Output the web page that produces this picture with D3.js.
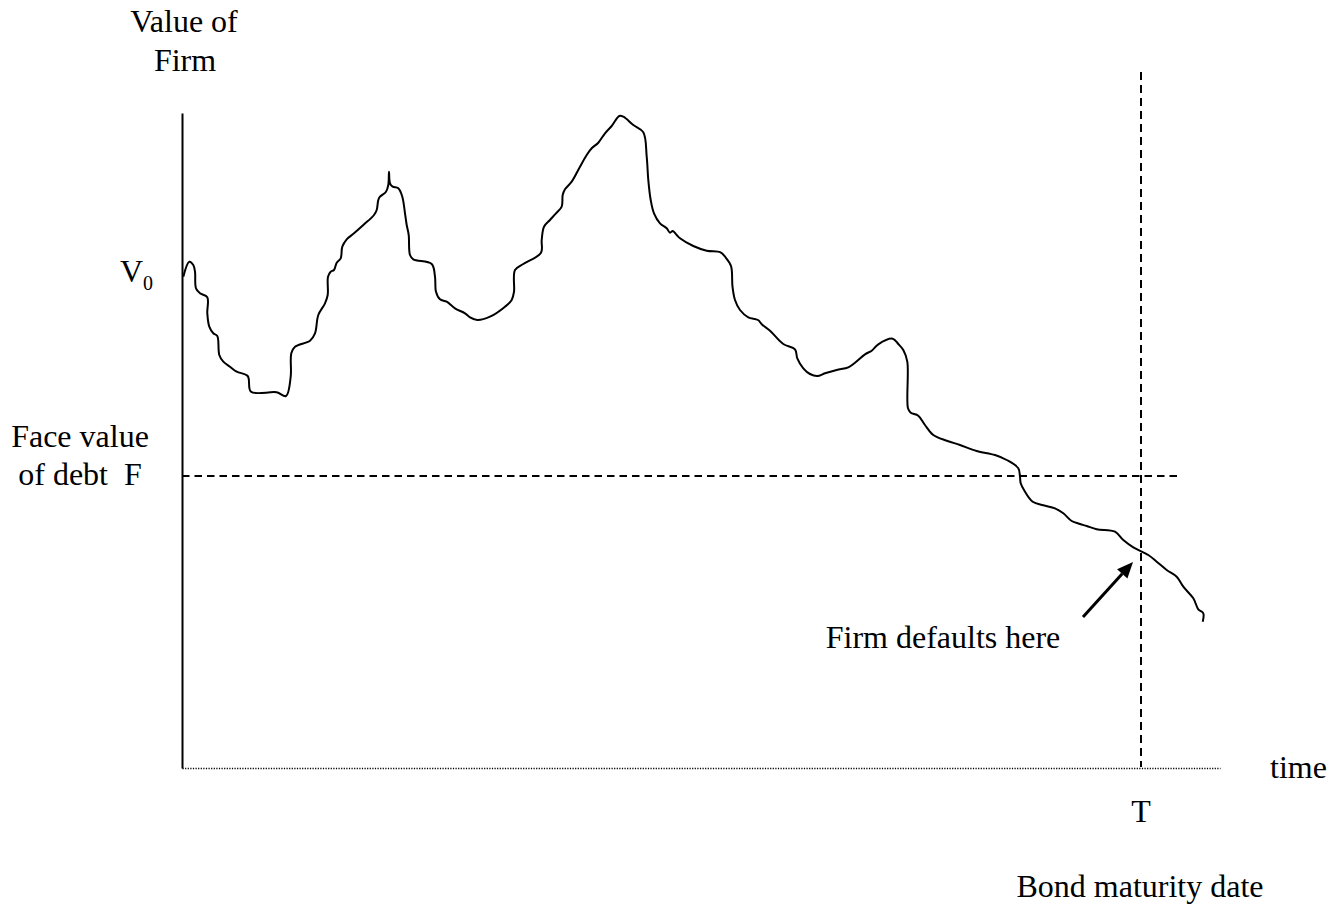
<!DOCTYPE html>
<html>
<head>
<meta charset="utf-8">
<script src="https://cdn.jsdelivr.net/npm/d3@7/dist/d3.min.js"></script>
<style>
  html, body { margin: 0; padding: 0; background: #fff; }
  svg { display: block; }
  text { font-family: "Liberation Serif", "Times New Roman", serif; fill: #000; white-space: pre; }
</style>
</head>
<body>
<svg id="chart" width="1331" height="907"></svg>
<script>
// ---- data (time units, firm value units) ----
const pathTime = [1.3,7.3,11.3,13,14,18,25.3,25.3,27.3,31.3,35.3,37.3,41.3,48,54.7,65.7,69,94.7,104,108.7,109.3,113,128,133,136.3,143,145.7,146,148.7,152,154.7,158.7,160.3,164.7,172,181.3,192,194.7,196.3,198,204,206.3,207,208,210.7,216.3,220.3,223,224.7,226.7,228,231.3,249.7,253,254,258,264.7,273,283,288,295.3,308,323,329.7,332,333,341.3,359,359.7,362,368,374,379.7,380.7,383,389.7,398,404.7,409.7,416.3,423,429.7,437.3,441.3,451.3,461.3,464.7,466.3,468.7,472,478,484.7,488,490.7,494.7,498,511.3,524.7,538.5,543,549,550.5,553,558,566.3,576,580,588,601.3,613,615.3,621.3,628,635.3,643,654.7,666.3,673,683,689.7,696.3,710.7,716.3,721.3,725.3,726,728.7,736.3,743,751.3,764.7,778,794.7,813,824.7,836.3,838,838.7,843,850.7,861.3,873,881.3,889.7,898,904.7,914.7,933,941.3,951.3,966.3,974.7,984.7,994.7,1001.3,1011.3,1016.3,1021.3,1020.7];
const firmValue = [491.3,506.3,503,496.3,479.7,474.7,470.7,454.7,441.3,434.7,432,413,406.3,401.3,396.3,392,376.3,375.7,372,391.3,414.7,421.3,427.3,434.7,453,464.7,473,491.3,496.3,498,505.3,509.7,521.3,528.7,534.7,543,553,558,568,571.3,576.3,583,596.3,584.7,581.3,579.7,571.3,554.7,543,533,513,508.7,504,491.3,476.3,468.7,466.3,459.7,454.7,450.7,448,451.3,461.3,468,476.3,498,504,515.3,528,541.3,548,554.7,561.3,573,578.7,586.3,601.3,613,619.7,625.3,634.7,642,652,651.3,643,635.7,611.3,588,568,554.7,544.7,539.7,535.3,537,533,529.7,522,517.3,515.7,511.3,502,481.3,468,458,450.7,448,443.5,437.3,424,418.7,409.7,399.7,394,392,394.7,398,400.7,405.3,413.7,417.3,423.7,429.3,424,418,406.3,359.7,355.3,352.3,343,333,327.3,323,317,313,308,299.7,291.3,284.7,276.3,266.3,262.7,259.7,254.7,247,244,242,238.7,236.3,228,220.7,213,206.3,198,191.3,181.3,169.7,158.7,154.7,146.3];

const faceValueF = 292;      // face value of debt
const V0 = 491;              // initial firm value
const maturityT = 959;       // bond maturity date
const defaultPoint = [951, 206]; // where the arrow points (time, value)
const arrowTail = [901, 151];

const timeDomain = [0, 1038];
const valueDomain = [0, 655];

const yAxisLabel = ["Value of", "Firm"];
const fLabel = ["Face value", "of debt  F"];
const xAxisLabel = "time";
const tLabel = "T";
const maturityLabel = "Bond maturity date";
const defaultLabel = "Firm defaults here";

// ---- scales ----
const svg = d3.select("#chart");
const x = d3.scaleLinear().domain(timeDomain).range([182, 1220]);
const y = d3.scaleLinear().domain(valueDomain).range([768, 113]);
const FS = 32;

// y axis (solid line)
svg.append("g")
  .attr("transform", `translate(${x(0)},0)`)
  .call(d3.axisLeft(y).tickValues([]).tickSizeOuter(0))
  .call(g => g.select(".domain").attr("stroke", "#000").attr("stroke-width", 2));

// x axis (dotted)
svg.append("g")
  .attr("transform", `translate(0,${y(0)})`)
  .call(d3.axisBottom(x).tickValues([]).tickSizeOuter(0))
  .call(g => g.select(".domain").attr("stroke", "#000").attr("stroke-width", 1.4).attr("stroke-dasharray", "1.2,1.4"));

// dashed face value line
svg.append("line")
  .attr("x1", x(0)).attr("x2", x(maturityT) + 36)
  .attr("y1", y(faceValueF)).attr("y2", y(faceValueF))
  .attr("stroke", "#000").attr("stroke-width", 2).attr("stroke-dasharray", "7.5,5");

// dashed maturity line
svg.append("line")
  .attr("x1", x(maturityT)).attr("x2", x(maturityT))
  .attr("y1", 72).attr("y2", y(0) - 1)
  .attr("stroke", "#000").attr("stroke-width", 2).attr("stroke-dasharray", "8,5");

// firm value path
const pts = pathTime.map((t, i) => [t, firmValue[i]]);
svg.append("path")
  .datum(pts)
  .attr("fill", "none")
  .attr("stroke", "#000")
  .attr("stroke-width", 2)
  .attr("stroke-linejoin", "round")
  .attr("d", d3.line().x(d => x(d[0])).y(d => y(d[1])).curve(d3.curveCatmullRom.alpha(0.5)));

// arrow
const ax1 = x(arrowTail[0]), ay1 = y(arrowTail[1]);
const ax2 = x(defaultPoint[0]), ay2 = y(defaultPoint[1]);
const ang = Math.atan2(ay2 - ay1, ax2 - ax1);
const headLen = 16, headW = 7;
const bx = ax2 - headLen * Math.cos(ang), by = ay2 - headLen * Math.sin(ang);
svg.append("line")
  .attr("x1", ax1).attr("y1", ay1).attr("x2", bx).attr("y2", by)
  .attr("stroke", "#000").attr("stroke-width", 3);
svg.append("path")
  .attr("d", `M${ax2},${ay2} L${bx - headW * Math.sin(ang)},${by + headW * Math.cos(ang)} L${bx + headW * Math.sin(ang)},${by - headW * Math.cos(ang)} Z`)
  .attr("fill", "#000");

// labels
const txt = (s, px, py, anchor) => svg.append("text")
  .attr("x", px).attr("y", py).attr("text-anchor", anchor || "start")
  .attr("font-size", FS).text(s);

txt(yAxisLabel[0], 184, 32, "middle");
txt(yAxisLabel[1], 185, 71, "middle");

const v0 = svg.append("text").attr("x", 120).attr("y", 282).attr("font-size", FS);
v0.append("tspan").text("V");
v0.append("tspan").attr("font-size", 20).attr("dy", 8).text("0");

txt(fLabel[0], 80, 447, "middle");
txt(fLabel[1], 80, 485, "middle");

txt(xAxisLabel, 1270, 778);
txt(tLabel, x(maturityT), 822, "middle");
txt(maturityLabel, 1140, 897, "middle");
txt(defaultLabel, 943, 648, "middle");
</script>
</body>
</html>
